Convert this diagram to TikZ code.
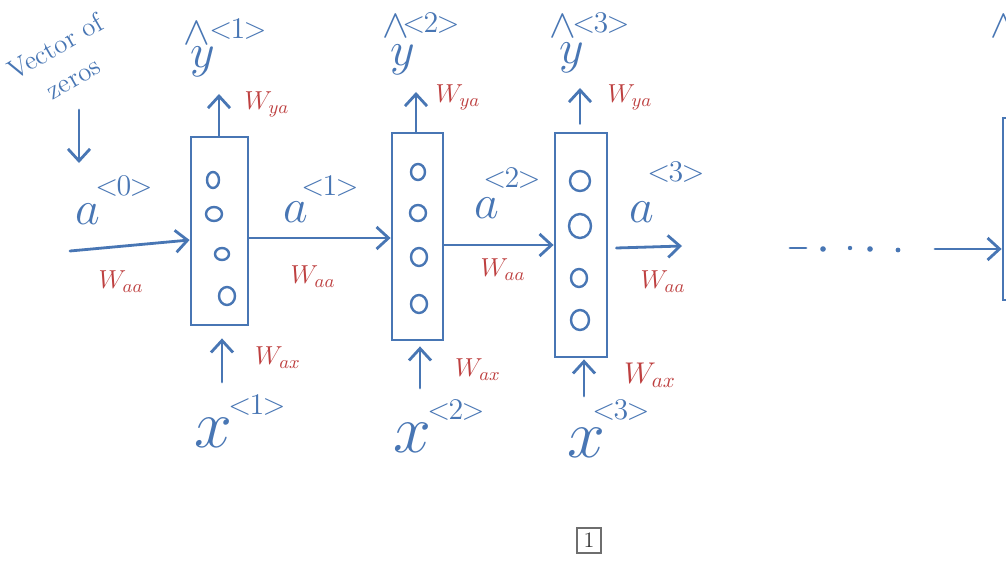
\RequirePackage{fix-cm}
\documentclass[tikz,border=0pt]{standalone}
\usetikzlibrary{arrows.meta}
\definecolor{ink}{RGB}{72,118,180}
\definecolor{redink}{RGB}{190,64,64}
\definecolor{pagegray}{RGB}{110,110,110}
\newcommand{\stepidx}[1]{$\mathord{<}\mkern-1mu#1\mkern-1mu\mathord{>}$}
\begin{document}
\begin{tikzpicture}[x=0.5pt,y=-0.5pt,
  pen/.style={draw=ink,line width=1.4pt,line cap=round,line join=round},
  flow/.style={pen,-{Straight Barb[length=6pt,width=11pt,line width=1.4pt]}},
  cell/.style={draw=ink,line width=1.4pt,inner sep=0pt},
  unit/.style={draw=ink,line width=1.2pt},
  var/.style={text=ink,inner sep=0pt,font=\fontsize{24}{26}\selectfont},
  bigvar/.style={text=ink,inner sep=0pt,font=\fontsize{34}{36}\selectfont},
  sup/.style={text=ink,inner sep=0pt,font=\fontsize{15}{17}\selectfont},
  hatmark/.style={text=ink,inner sep=0pt,font=\fontsize{20}{22}\selectfont},
  weight/.style={text=redink,inner sep=0pt,font=\fontsize{13}{15}\selectfont},
  note/.style={text=ink,inner sep=0pt,align=center,font=\fontsize{13.5}{18}\selectfont},
  pagebox/.style={draw=pagegray,line width=0.6pt,inner sep=0pt,minimum width=12pt,
    minimum height=12.5pt,text=black!80,font=\fontsize{11}{12}\selectfont}
]
\useasboundingbox (0,0) rectangle (1006,583);
\fill[white] (0,0) rectangle (1006,583);
\clip (0,0) rectangle (1006,583);

% recurrent cells
\node[cell,minimum width=28.5pt,minimum height=94pt]  (c1) at (219.5,231) {};
\node[cell,minimum width=25.5pt,minimum height=103.5pt] (c2) at (417.5,236.5) {};
\node[cell,minimum width=26pt,minimum height=112pt]   (c3) at (581,245) {};
\node[cell,minimum width=28pt,minimum height=91pt]    (c4) at (1031,209) {};

% hidden units
\draw[unit] (213,180) ellipse [x radius=3pt,y radius=4pt];
\draw[unit] (214,214) ellipse [x radius=4pt,y radius=3.5pt];
\draw[unit] (222,254) ellipse [x radius=3.5pt,y radius=3pt];
\draw[unit] (227,296) ellipse [x radius=4pt,y radius=4.5pt];

\draw[unit] (418,172) ellipse [x radius=3.5pt,y radius=4pt];
\draw[unit] (418,213) ellipse [x radius=4pt,y radius=4pt];
\draw[unit] (419,257) ellipse [x radius=4pt,y radius=4.5pt];
\draw[unit] (419,304) ellipse [x radius=4pt,y radius=4.5pt];

\draw[unit] (580,181) ellipse [x radius=5pt,y radius=5pt];
\draw[unit] (580,226) ellipse [x radius=5.5pt,y radius=6pt];
\draw[unit] (579,278) ellipse [x radius=4pt,y radius=4.5pt];
\draw[unit] (580,320) ellipse [x radius=4.5pt,y radius=5pt];

% initial activation
\node[note,rotate=30] (zlab) at (64,62) {Vector of\\zeros};
\coordinate (z0) at (79,110);
\coordinate (z1) at (79,163);
\draw[flow] (z0) -- (z1);

% activations passed along
\coordinate (a0start) at (70,251);
\draw[flow] (a0start) -- ([yshift=-4.5pt]c1.west);
\draw[flow] ([yshift=-3.5pt]c1.east) -- ([yshift=-3.5pt]c1.east -| c2.west);
\draw[flow] ([yshift=-4.25pt]c2.east) -- (c3.west);
\coordinate (a3end) at (682,246);
\draw[flow] ([xshift=4pt,yshift=-1.5pt]c3.east) -- (a3end);

% ellipsis towards the last cell
\draw[pen] (790,248) -- (806,248);
\fill[ink] (823,249) circle (1.4pt);
\fill[ink] (850,248) circle (1.1pt);
\fill[ink] (870,249) circle (1.4pt);
\fill[ink] (898,250) circle (1.2pt);
\coordinate (a4start) at (935,249);
\draw[flow] (a4start) -- (a4start -| c4.west);

% outputs
\coordinate (o1) at (219,94);
\coordinate (o2) at (416,92);
\coordinate (o3) at (580,88);
\draw[flow] (c1.north -| o1) -- (o1);
\draw[flow] (c2.north -| o2) -- (o2);
\draw[flow] ([yshift=4pt]c3.north -| o3) -- (o3);

% inputs
\coordinate (i1) at (222,382);
\coordinate (i2) at (420,388);
\coordinate (i3) at (584,396);
\draw[flow] (i1) -- ([yshift=-6pt]i1 |- c1.south);
\draw[flow] (i2) -- ([yshift=-2.5pt]i2 |- c2.south);
\draw[flow] (i3) -- ([yshift=-0.5pt]i3 |- c3.south);

% activation labels
\node[var] (a0) at (88,214) {$a$};
\node[sup] (a0s) at (124,186) {\stepidx{0}};
\node[var] (a1) at (296,212) {$a$};
\node[sup] (a1s) at (330,186) {\stepidx{1}};
\node[var] (a2) at (487,208) {$a$};
\node[sup] (a2s) at (512,178) {\stepidx{2}};
\node[var] (a3) at (642,212) {$a$};
\node[sup] (a3s) at (676,172) {\stepidx{3}};

% output labels
\node[var] (y1) at (203,62) {$y$};
\node[hatmark] (h1) at (197,33) {$\wedge$};
\node[sup] (y1s) at (238,29) {\stepidx{1}};
\node[var] (y2) at (403,60) {$y$};
\node[hatmark] (h2) at (396,26) {$\wedge$};
\node[sup] (y2s) at (431,23) {\stepidx{2}};
\node[var] (y3) at (572,58) {$y$};
\node[hatmark] (h3) at (563,26) {$\wedge$};
\node[sup] (y3s) at (601,23) {\stepidx{3}};
\node[hatmark] (h4) at (1004,26) {$\wedge$};

% input labels
\node[bigvar] (x1) at (213,433) {$x$};
\node[sup] (x1s) at (257,405) {\stepidx{1}};
\node[bigvar] (x2) at (412,438) {$x$};
\node[sup] (x2s) at (456,410) {\stepidx{2}};
\node[bigvar] (x3) at (586,443) {$x$};
\node[sup] (x3s) at (621,410) {\stepidx{3}};

% weight matrices
\node[weight] (wya1) at (267,104) {$W_{ya}$};
\node[weight] (wya2) at (458,97) {$W_{ya}$};
\node[weight] (wya3) at (630,97) {$W_{ya}$};
\node[weight] (waa0) at (121,282) {$W_{aa}$};
\node[weight] (waa1) at (313,277) {$W_{aa}$};
\node[weight] (waa2) at (503,270) {$W_{aa}$};
\node[weight] (waa3) at (663,282) {$W_{aa}$};
\node[weight] (wax1) at (278,358) {$W_{ax}$};
\node[weight] (wax2) at (478,370) {$W_{ax}$};
\node[weight,font=\fontsize{15}{17}\selectfont] (wax3) at (650,375) {$W_{ax}$};

% slide number
\node[pagebox] (pg) at (589,540.5) {1};
\end{tikzpicture}
\end{document}
